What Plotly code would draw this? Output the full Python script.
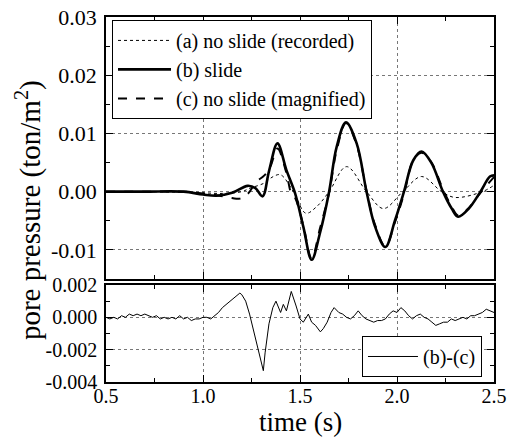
import plotly.graph_objects as go

# ---------------- data ----------------
# (a) no slide (recorded)
t_a = [0.5, 0.7, 0.9, 1.0, 1.1, 1.2, 1.242, 1.311, 1.362, 1.40, 1.466, 1.53,
       1.585, 1.65, 1.74, 1.843, 1.93, 2.03, 2.127, 2.23, 2.30, 2.44, 2.5]
p_a = [0.0, 0.0, -0.0001, -0.0002, -0.0003, 0.0000, 0.0006, 0.0014, 0.0026, 0.0029, 0.0000, -0.0037,
       -0.0026, 0.0000, 0.0043, 0.0000, -0.0029, 0.0000, 0.0026, 0.0000, -0.0010, 0.0000, 0.0011]

# (b) slide
t_b = [0.5, 0.7, 0.9, 1.0, 1.07, 1.15, 1.23, 1.27, 1.307, 1.34, 1.384, 1.43, 1.474, 1.517, 1.56,
       1.603, 1.65, 1.689, 1.737, 1.792, 1.843, 1.887, 1.94, 1.99, 2.036, 2.084, 2.127, 2.178,
       2.237, 2.282, 2.315, 2.37, 2.43, 2.479, 2.5]
p_b = [0.0, 0.0, 0.0, -0.0005, -0.0007, -0.0002, 0.0010, 0.0006, -0.0008, 0.0035, 0.0083, 0.0037,
       -0.0002, -0.0060, -0.0117, -0.0071, 0.0000, 0.0077, 0.0119, 0.0083, 0.0000, -0.0060, -0.0095,
       -0.0049, 0.0000, 0.0054, 0.0069, 0.0049, 0.0000, -0.0029, -0.0043, -0.0029, 0.0000, 0.0026, 0.0028]

# (c) no slide (magnified)
t_c = [0.5, 0.7, 0.9, 1.0, 1.07, 1.15, 1.19, 1.23, 1.277, 1.307, 1.33, 1.35, 1.384, 1.43, 1.455,
       1.474, 1.517, 1.56, 1.603, 1.65, 1.689, 1.737, 1.792, 1.843, 1.887, 1.94, 1.99, 2.036,
       2.084, 2.127, 2.178, 2.237, 2.282, 2.315, 2.37, 2.43, 2.5]
p_c = [0.0, 0.0, 0.0, -0.0003, -0.0006, -0.0011, -0.0012, -0.0004, 0.0018, 0.0025, 0.0033, 0.0045,
       0.0074, 0.0032, -0.0003, -0.0010, -0.0058, -0.0115, -0.0063, -0.0002, 0.0071, 0.0118, 0.0080,
       0.0001, -0.0057, -0.0094, -0.0052, -0.0004, 0.0054, 0.0067, 0.0050, 0.0004, -0.0026, -0.0041,
       -0.0028, -0.0002, 0.0025]

# (b)-(c)
t_d = [0.50, 0.52, 0.54, 0.56, 0.58, 0.60, 0.62, 0.64, 0.66, 0.68, 0.70, 0.72, 0.74, 0.76, 0.78,
       0.80, 0.82, 0.84, 0.86, 0.88, 0.90, 0.92, 0.94, 0.96, 0.98, 1.00, 1.02, 1.04, 1.06, 1.08,
       1.10, 1.12, 1.14, 1.16, 1.18, 1.19, 1.20, 1.22, 1.24, 1.26, 1.28, 1.30, 1.311, 1.32, 1.34,
       1.36, 1.376, 1.40, 1.414, 1.43, 1.455, 1.48, 1.50, 1.517, 1.543, 1.56, 1.58, 1.605, 1.62,
       1.64, 1.66, 1.676, 1.70, 1.72, 1.74, 1.76, 1.78, 1.80, 1.82, 1.84, 1.86, 1.88, 1.90, 1.92,
       1.94, 1.96, 1.98, 2.00, 2.02, 2.04, 2.06, 2.08, 2.10, 2.12, 2.14, 2.16, 2.18, 2.20, 2.22,
       2.24, 2.26, 2.28, 2.30, 2.32, 2.34, 2.36, 2.38, 2.40, 2.42, 2.44, 2.46, 2.48, 2.50]
p_d = [0.0000, -0.0001, 0.0000, -0.0001, 0.0001, 0.0000, 0.0002, 0.0001, 0.0002, 0.0001, 0.0002,
       0.0001, 0.0000, 0.0001, -0.0001, 0.0000, -0.0001, 0.0000, -0.0001, 0.0001, -0.0001, 0.0000,
       -0.0002, -0.0001, -0.0001, 0.0000, 0.0000, -0.0001, 0.0001, 0.0003, 0.0006, 0.0008, 0.0010,
       0.0012, 0.0014, 0.0015, 0.0014, 0.0010, 0.0002, -0.0008, -0.0018, -0.0029, -0.0033, -0.0022,
       -0.0004, 0.0006, 0.0010, 0.0003, 0.0008, 0.0004, 0.0016, 0.0007, -0.0001, -0.0003, 0.0002,
       -0.0003, -0.0005, -0.0009, -0.0007, -0.0003, 0.0003, 0.0006, 0.0003, 0.0002, 0.0000, -0.0001,
       0.0001, 0.0004, 0.0001, -0.0001, -0.0002, -0.0003, -0.0002, -0.0002, -0.0001, 0.0002, 0.0004,
       0.0003, 0.0006, 0.0004, 0.0001, -0.0001, 0.0001, 0.0002, 0.0000, -0.0001, -0.0003, -0.0005,
       -0.0004, -0.0003, -0.0003, -0.0001, -0.0002, -0.0001, 0.0000, -0.0001, 0.0001, 0.0001, 0.0002,
       0.0003, 0.0005, 0.0004, 0.0003]

x_ticks = [0.5, 1.0, 1.5, 2.0, 2.5]
x_labels = ["0.5", "1.0", "1.5", "2.0", "2.5"]
y1_ticks = [-0.01, 0.00, 0.01, 0.02, 0.03]
y1_labels = ["-0.01", "0.00", "0.01", "0.02", "0.03"]
y2_ticks = [-0.004, -0.002, 0.000, 0.002]
y2_labels = ["-0.004", "-0.002", "0.000", "0.002"]

FONT = "Liberation Serif"

fig = go.Figure()
fig.add_trace(go.Scatter(x=t_a, y=p_a, mode="lines", name="(a) no slide (recorded)",
                         line=dict(color="black", width=1, dash="dot", shape="spline"),
                         xaxis="x2", yaxis="y2", legend="legend"))
fig.add_trace(go.Scatter(x=t_b, y=p_b, mode="lines", name="(b) slide",
                         line=dict(color="black", width=2.6, shape="spline"),
                         xaxis="x2", yaxis="y2", legend="legend"))
fig.add_trace(go.Scatter(x=t_c, y=p_c, mode="lines", name="(c) no slide (magnified)",
                         line=dict(color="black", width=2, dash="dash", shape="spline"),
                         xaxis="x2", yaxis="y2", legend="legend"))
fig.add_trace(go.Scatter(x=t_d, y=p_d, mode="lines", name="(b)-(c)",
                         line=dict(color="black", width=1),
                         xaxis="x", yaxis="y", legend="legend2"))

common_axis = dict(showline=True, linecolor="black", linewidth=1.5, mirror="ticks",
                   ticks="inside", ticklen=7, tickwidth=1, tickcolor="black",
                   showgrid=True, gridcolor="#777777", griddash="dot", gridwidth=1,
                   zeroline=False, automargin=False, ticklabeloverflow="allow")

fig.update_layout(
    template="none",
    width=507, height=440,
    margin=dict(l=106, r=13, t=17, b=58),
    paper_bgcolor="white", plot_bgcolor="white",
    font=dict(family=FONT, color="black", size=20),
    xaxis=dict(**common_axis, domain=[0, 1], anchor="y", range=[0.5, 2.5],
               tickvals=x_ticks, ticktext=x_labels, tickfont=dict(family=FONT, size=20),
               ticklabelstandoff=-5,
               minor=dict(dtick=0.25, ticks="inside", ticklen=4, tickcolor="black", showgrid=False)),
    yaxis=dict(**common_axis, domain=[0, 0.2658], anchor="x", range=[-0.004, 0.002],
               tickvals=y2_ticks, ticktext=y2_labels, tickfont=dict(family=FONT, size=20),
               ticklabelstandoff=3,
               minor=dict(dtick=0.001, ticks="inside", ticklen=4, tickcolor="black", showgrid=False)),
    xaxis2=dict(**common_axis, domain=[0, 1], anchor="y2", range=[0.5, 2.5], matches="x",
                tickvals=x_ticks, showticklabels=False,
                minor=dict(dtick=0.25, ticks="inside", ticklen=4, tickcolor="black", showgrid=False)),
    yaxis2=dict(**common_axis, domain=[0.2822, 1], anchor="x2", range=[-0.015, 0.03],
                tickvals=y1_ticks, ticktext=y1_labels, tickfont=dict(family=FONT, size=22),
                ticklabelstandoff=3,
                minor=dict(dtick=0.005, ticks="inside", ticklen=4, tickcolor="black", showgrid=False)),
    legend=dict(x=0.0155, y=0.992, xanchor="left", yanchor="top",
                bgcolor="white", bordercolor="black", borderwidth=1,
                font=dict(family=FONT, size=20), itemwidth=53, tracegroupgap=0,
                entrywidth=225, entrywidthmode="pixels"),
    legend2=dict(x=0.969, y=0.0137, xanchor="right", yanchor="bottom",
                 bgcolor="white", bordercolor="black", borderwidth=1,
                 font=dict(family=FONT, size=20), itemwidth=50,
                 entrywidth=75, entrywidthmode="pixels"),
    showlegend=True,
    annotations=[
        dict(text="pore pressure (ton/m<sup>2</sup>)", textangle=-90,
             xref="paper", yref="paper", x=-0.201, y=0.471,
             xanchor="center", yanchor="middle", showarrow=False,
             font=dict(family=FONT, size=29)),
        dict(text="time (s)", xref="paper", yref="paper", x=0.5, y=-0.1096,
             xanchor="center", yanchor="middle", showarrow=False,
             font=dict(family=FONT, size=27)),
    ],
)

fig.write_html("out.html", config={"displayModeBar": False},
               post_script="document.body.style.margin='0';")
